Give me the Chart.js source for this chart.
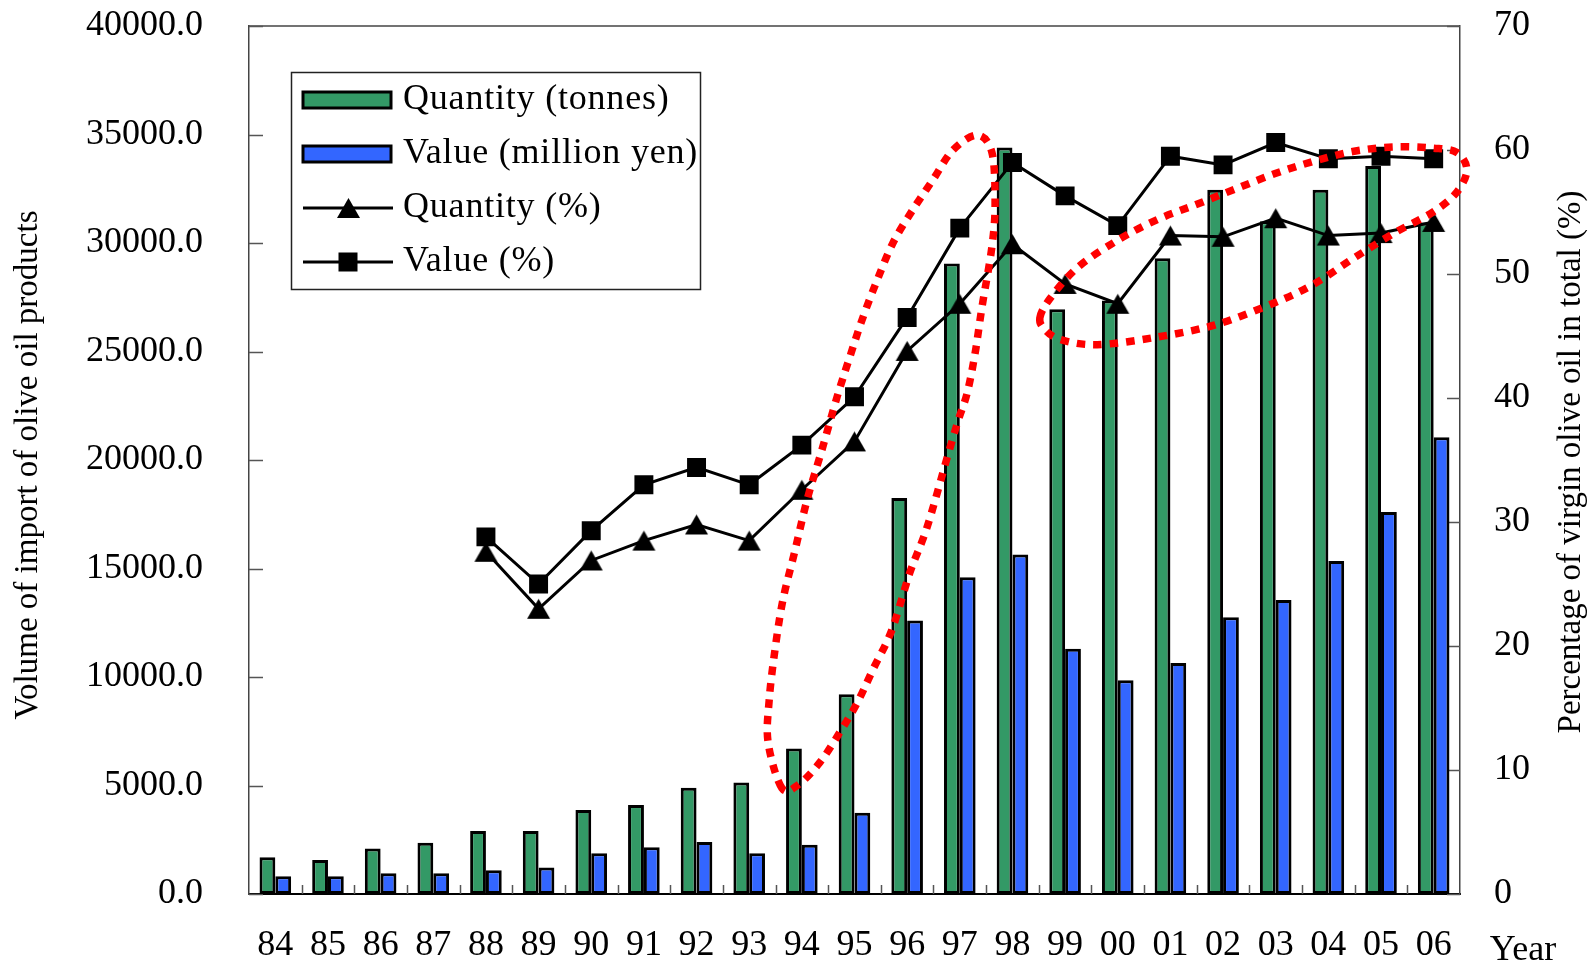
<!DOCTYPE html>
<html>
<head>
<meta charset="utf-8">
<title>Olive oil imports</title>
<script src="https://cdn.jsdelivr.net/npm/chart.js@4/dist/chart.umd.min.js"></script>
<style>
  html, body { margin: 0; padding: 0; background: #fff; }
  #wrap { width: 1592px; height: 968px; position: relative; }
</style>
</head>
<body>
<div id="wrap"><canvas id="chart"></canvas></div>
<script>
// Import years (two-digit)
const years = ['84','85','86','87','88','89','90','91','92','93','94','95','96','97','98','99','00','01','02','03','04','05','06'];

// Import volume of olive oil products
const quantityTonnes = [1690, 1570, 2100, 2360, 2900, 2900, 3870, 4100, 4900, 5140, 6700, 9200, 18250, 29050, 34400, 26950, 27350, 29300, 32450, 31000, 32450, 33550, 30950];
const valueMillionYen = [820, 820, 960, 960, 1100, 1220, 1880, 2150, 2400, 1880, 2270, 3750, 12600, 14600, 15650, 11300, 9850, 10650, 12750, 13550, 15350, 17600, 21050];

// Share of virgin olive oil in the total (%), recorded from 1988
const quantityPct = [null, null, null, null, 27.6, 23.0, 26.9, 28.5, 29.8, 28.5, 32.6, 36.5, 43.8, 47.6, 52.4, 49.2, 47.6, 53.1, 53.0, 54.5, 53.1, 53.3, 54.2];
const valuePct = [null, null, null, null, 28.8, 25.0, 29.3, 33.0, 34.4, 33.0, 36.2, 40.1, 46.5, 53.7, 59.0, 56.3, 53.9, 59.5, 58.8, 60.6, 59.3, 59.5, 59.3];

// Axis ranges and tick steps
const leftAxisMax = 40000;
const leftAxisStep = 5000;
const rightAxisMax = 70;
const rightAxisStep = 10;

// Highlight rings, outlined as [category index, percent] points
const ringRise = [
  [9.62, 8.55], [9.36, 12.2], [9.38, 15.65], [9.49, 19.7], [9.64, 23.7], [9.87, 27.7],
  [10.10, 31.8], [10.38, 35.8], [10.67, 40.1], [10.91, 43.3], [11.16, 46.5], [11.43, 49.5],
  [11.73, 52.5], [12.11, 55.2], [12.49, 57.6], [12.87, 60.0], [13.33, 61.2], [13.61, 59.8],
  [13.67, 55.7], [13.61, 52.2], [13.42, 47.3], [13.29, 43.6], [13.14, 40.4], [12.97, 38.2],
  [12.76, 35.2], [12.38, 29.6], [12.05, 25.9], [11.71, 21.3], [11.35, 18.1], [11.05, 15.4],
  [10.73, 13.1], [10.35, 10.65], [9.93, 8.8]
];
const ringPlateau = [
  [14.52, 46.45], [14.71, 48.0], [15.23, 50.5], [15.99, 52.7], [16.73, 54.35], [17.49, 55.6],
  [18.23, 56.85], [18.99, 58.1], [19.73, 59.1], [20.49, 59.9], [21.25, 60.25], [21.99, 60.15],
  [22.44, 59.8], [22.63, 58.4], [22.44, 56.6], [21.99, 55.0], [21.25, 53.3], [20.49, 51.3],
  [19.73, 49.2], [18.99, 47.7], [17.85, 45.9], [16.73, 44.9], [15.61, 44.3], [14.92, 44.7],
  [14.62, 45.5]
];

const SERIF = "'Liberation Serif', 'Times New Roman', serif";
const GREEN = '#339966';
const BLUE = '#3366FF';

const legendItems = [
  { text: 'Quantity (tonnes)', kind: 'bar', color: GREEN },
  { text: 'Value (million yen)', kind: 'bar', color: BLUE },
  { text: 'Quantity (%)', kind: 'line', marker: 'triangle' },
  { text: 'Value (%)', kind: 'line', marker: 'rect' }
];

// triangle marker whose bounding box is centred on the point
const TRI_W = 23, TRI_H = 20;
const triangleMarker = (() => {
  const c = document.createElement('canvas');
  c.width = TRI_W + 2;
  c.height = TRI_H + 2;
  const g = c.getContext('2d');
  g.fillStyle = '#000';
  g.beginPath();
  g.moveTo(c.width / 2, 1);
  g.lineTo(c.width - 1, c.height - 1);
  g.lineTo(1, c.height - 1);
  g.closePath();
  g.fill();
  return c;
})();

function drawMarker(ctx, style, x, y) {
  if (style === 'triangle') {
    ctx.drawImage(triangleMarker, Math.round(x - triangleMarker.width / 2), Math.round(y - triangleMarker.height / 2));
  } else {
    const s = 19;
    ctx.fillStyle = '#000';
    ctx.fillRect(x - s / 2, y - s / 2, s, s);
  }
}

// keep the plot frame exactly where the layout asks for it
function fixBox(w, h) {
  return function (scale) {
    if (w !== null) scale.width = w;
    if (h !== null) scale.height = h;
    scale.paddingTop = 0;
    scale.paddingBottom = 0;
    scale.paddingLeft = 0;
    scale.paddingRight = 0;
  };
}

// closed Catmull-Rom curve through the given pixel points
function closedCurve(ctx, pts) {
  const n = pts.length;
  ctx.beginPath();
  ctx.moveTo(pts[0][0], pts[0][1]);
  for (let i = 0; i < n; i++) {
    const p0 = pts[(i - 1 + n) % n], p1 = pts[i], p2 = pts[(i + 1) % n], p3 = pts[(i + 2) % n];
    const c1x = p1[0] + (p2[0] - p0[0]) / 6, c1y = p1[1] + (p2[1] - p0[1]) / 6;
    const c2x = p2[0] - (p3[0] - p1[0]) / 6, c2y = p2[1] - (p3[1] - p1[1]) / 6;
    ctx.bezierCurveTo(c1x, c1y, c2x, c2y, p2[0], p2[1]);
  }
  ctx.closePath();
}

const decorPlugin = {
  id: 'decor',
  beforeDatasetsDraw(chart) {
    const { ctx, chartArea: a, scales } = chart;
    ctx.save();
    // frame top edge
    ctx.strokeStyle = '#444';
    ctx.lineWidth = 1.5;
    ctx.beginPath();
    ctx.moveTo(a.left, a.top);
    ctx.lineTo(a.right, a.top);
    ctx.stroke();
    // inward tick marks on the value axes
    ctx.strokeStyle = '#555';
    ctx.lineWidth = 1.5;
    ctx.beginPath();
    scales.y.ticks.forEach(t => {
      const py = Math.round(scales.y.getPixelForValue(t.value)) + 0.5;
      ctx.moveTo(a.left, py);
      ctx.lineTo(a.left + 14, py);
    });
    scales.y2.ticks.forEach(t => {
      const py = Math.round(scales.y2.getPixelForValue(t.value)) + 0.5;
      ctx.moveTo(a.right, py);
      ctx.lineTo(a.right - 13, py);
    });
    // category separators on the bottom axis
    const n = years.length;
    const step = (a.right - a.left) / n;
    for (let i = 1; i < n; i++) {
      const px = Math.round(a.left + i * step) + 0.5;
      ctx.moveTo(px, a.bottom);
      ctx.lineTo(px, a.bottom - 9);
    }
    ctx.stroke();
    ctx.restore();
  },
  afterDatasetsDraw(chart) {
    const { ctx, scales } = chart;
    ctx.save();
    ctx.strokeStyle = '#FF0000';
    ctx.lineWidth = 7.5;
    ctx.setLineDash([8.5, 8]);
    [ringRise, ringPlateau].forEach(ring => {
      const pts = ring.map(p => [scales.x.getPixelForValue(p[0]), scales.y2.getPixelForValue(p[1])]);
      closedCurve(ctx, pts);
      ctx.stroke();
    });
    ctx.restore();
  },
  afterDraw(chart) {
    const { ctx, chartArea: a } = chart;
    ctx.save();
    // legend box
    const bx = a.left + 42, by = a.top + 46, bw = 409, bh = 217;
    ctx.fillStyle = '#fff';
    ctx.fillRect(bx, by, bw, bh);
    ctx.strokeStyle = '#222';
    ctx.lineWidth = 1.5;
    ctx.strokeRect(bx + 0.5, by + 0.5, bw, bh);
    ctx.font = '36px ' + SERIF;
    ctx.textBaseline = 'middle';
    ctx.textAlign = 'left';
    if ('letterSpacing' in ctx) ctx.letterSpacing = '0.8px';
    legendItems.forEach((item, i) => {
      const yy = by + 28 + i * 54;
      const sx = bx + 12, sw = 88;
      if (item.kind === 'bar') {
        ctx.fillStyle = item.color;
        ctx.fillRect(sx, yy - 8, sw, 16);
        ctx.strokeStyle = '#000';
        ctx.lineWidth = 3;
        ctx.strokeRect(sx, yy - 8, sw, 16);
      } else {
        ctx.strokeStyle = '#000';
        ctx.lineWidth = 3;
        ctx.beginPath();
        ctx.moveTo(sx, yy);
        ctx.lineTo(sx + sw + 2, yy);
        ctx.stroke();
        drawMarker(ctx, item.marker, sx + sw / 2 + 1, yy);
      }
      ctx.fillStyle = '#000';
      ctx.fillText(item.text, bx + 112, yy);
    });
    if ('letterSpacing' in ctx) ctx.letterSpacing = '0px';
    // axis titles
    ctx.font = '33px ' + SERIF;
    ctx.fillStyle = '#000';
    ctx.textAlign = 'center';
    ctx.textBaseline = 'middle';
    ctx.save();
    ctx.translate(28, 465);
    ctx.rotate(-Math.PI / 2);
    ctx.fillText('Volume of import of olive oil products', 0, 0);
    ctx.restore();
    ctx.save();
    ctx.translate(1571, 462);
    ctx.rotate(-Math.PI / 2);
    ctx.fillText('Percentage of virgin olive oil in total (%)', 0, 0);
    ctx.restore();
    ctx.font = '36px ' + SERIF;
    ctx.fillText('Year', 1523, 951);
    ctx.restore();
  }
};

new Chart(document.getElementById('chart'), {
  data: {
    labels: years,
    datasets: [
      {
        type: 'line', label: 'Quantity (%)', data: quantityPct, yAxisID: 'y2', order: 0,
        borderColor: '#000', borderWidth: 3, tension: 0, spanGaps: false,
        pointStyle: triangleMarker, pointRadius: 12, pointBackgroundColor: '#000', pointBorderColor: '#000', pointBorderWidth: 0
      },
      {
        type: 'line', label: 'Value (%)', data: valuePct, yAxisID: 'y2', order: 0,
        borderColor: '#000', borderWidth: 3, tension: 0, spanGaps: false,
        pointStyle: 'rect', pointRadius: 13.4, pointBackgroundColor: '#000', pointBorderColor: '#000', pointBorderWidth: 0
      },
      {
        type: 'bar', label: 'Quantity (tonnes)', data: quantityTonnes, yAxisID: 'y', order: 1,
        backgroundColor: GREEN, borderColor: '#000', borderWidth: 3, borderSkipped: false,
        categoryPercentage: 0.6, barPercentage: 1.0
      },
      {
        type: 'bar', label: 'Value (million yen)', data: valueMillionYen, yAxisID: 'y', order: 2,
        backgroundColor: BLUE, borderColor: '#000', borderWidth: 3, borderSkipped: false,
        categoryPercentage: 0.6, barPercentage: 1.0
      }
    ]
  },
  options: {
    responsive: true,
    maintainAspectRatio: false,
    animation: false,
    devicePixelRatio: 1,
    layout: { padding: { top: 26, left: 0, right: 0, bottom: 0 } },
    plugins: { legend: { display: false }, tooltip: { enabled: false } },
    scales: {
      x: {
        type: 'category',
        offset: true,
        grid: { display: false, drawTicks: false },
        border: { display: true, color: '#000', width: 2 },
        ticks: { color: '#000', font: { family: SERIF, size: 36 }, padding: 30, maxRotation: 0, autoSkip: false },
        afterFit: fixBox(null, 74)
      },
      y: {
        position: 'left',
        min: 0, max: leftAxisMax,
        grid: { display: false, drawTicks: false },
        border: { display: true, color: '#444', width: 1.5 },
        ticks: { stepSize: leftAxisStep, color: '#000', font: { family: SERIF, size: 36 }, padding: 46,
                 callback: v => Number(v).toFixed(1) },
        afterFit: fixBox(249, null)
      },
      y2: {
        position: 'right',
        min: 0, max: rightAxisMax,
        grid: { display: false, drawTicks: false },
        border: { display: true, color: '#444', width: 1.5 },
        ticks: { stepSize: rightAxisStep, color: '#000', font: { family: SERIF, size: 36 }, padding: 34 },
        afterFit: fixBox(132, null)
      }
    }
  },
  plugins: [decorPlugin]
});
</script>
</body>
</html>
